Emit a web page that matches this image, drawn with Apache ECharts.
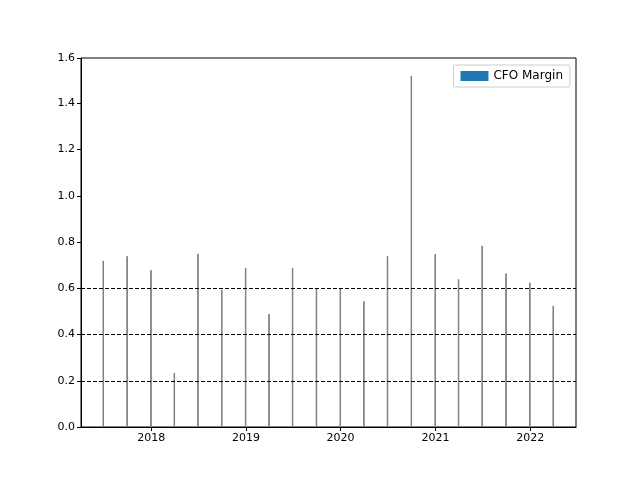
<!DOCTYPE html>
<html><head><meta charset="utf-8">
<script src="https://cdn.jsdelivr.net/npm/echarts@6/dist/echarts.min.js"></script>
<style>html,body{margin:0;padding:0;background:#fff}#c{width:640px;height:480px}</style>
</head><body><div id="c"></div>
<script>
const dates = ['2017-06-30','2017-09-30','2017-12-31','2018-03-31','2018-06-30','2018-09-30','2018-12-31','2019-03-31','2019-06-30','2019-09-30','2019-12-31','2020-03-31','2020-06-30','2020-09-30','2020-12-31','2021-03-31','2021-06-30','2021-09-30','2021-12-31','2022-03-31'];
const cfoMargin = [0.72,0.74,0.68,0.235,0.75,0.595,0.69,0.49,0.69,0.6,0.6,0.545,0.74,1.52,0.75,0.64,0.785,0.665,0.625,0.525];
const refLines = [0.2,0.4,0.6];
const chart = echarts.init(document.getElementById('c'));
const f = 'DejaVu Sans';
chart.setOption({
  animation:false,
  grid:{left:81,right:64,top:58,bottom:53,show:true,borderColor:'#000',borderWidth:1,backgroundColor:'transparent'},
  legend:{right:70,top:65,icon:'rect',itemWidth:28,itemHeight:10,itemGap:6,borderColor:'#ccc',borderWidth:1,borderRadius:2,padding:[5,7],
    itemStyle:{borderWidth:0},
    textStyle:{fontFamily:f,fontSize:12,color:'#000'},data:['CFO Margin']},
  xAxis:{type:'time',min:+new Date('2017-04-08'),max:+new Date('2022-06-24'),splitNumber:5,
    axisLine:{show:true,lineStyle:{color:'#000'}},axisTick:{show:true,inside:false,length:4,lineStyle:{color:'#000'}},
    splitLine:{show:false},minorTick:{show:false},
    axisLabel:{formatter:'{yyyy}',color:'#000',fontFamily:f,fontSize:11,margin:6}},
  yAxis:{type:'value',min:0,max:1.596,interval:0.2,
    axisLine:{show:true,lineStyle:{color:'#000'}},axisTick:{show:true,length:4,lineStyle:{color:'#000'}},
    splitLine:{show:false},
    axisLabel:{color:'#000',fontFamily:f,fontSize:11,margin:6,formatter:v=>v.toFixed(1)}},
  series:[{name:'CFO Margin',type:'bar',barWidth:1.5,
    itemStyle:{color:'#1f77b4',borderColor:'#808080',borderWidth:1},
    data:dates.map((d,i)=>[d,cfoMargin[i]]),
    markLine:{silent:true,symbol:'none',label:{show:false},
      lineStyle:{color:'#000',type:[4,2],width:1},
      data:refLines.map(v=>({yAxis:v}))}}]
});
</script></body></html>
